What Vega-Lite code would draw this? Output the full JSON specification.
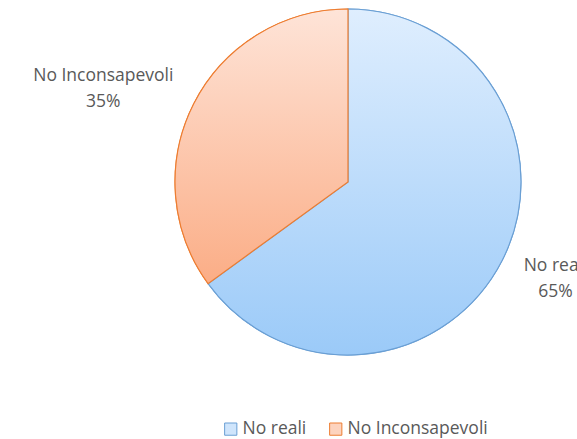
{
  "$schema": "https://vega.github.io/schema/vega-lite/v6.json",
  "width": 346,
  "height": 346,
  "autosize": {"type": "none"},
  "padding": {"left": 175, "top": 9, "right": 56, "bottom": 84},
  "background": "white",
  "config": {"view": {"stroke": null}, "font": "Open Sans"},
  "data": {
    "values": [
      {"category": "No reali", "value": 65},
      {"category": "No Inconsapevoli", "value": 35}
    ]
  },
  "transform": [
    {"calculate": "datum.category + '\\n' + datum.value + '%'", "as": "label"}
  ],
  "encoding": {
    "theta": {"field": "value", "type": "quantitative", "stack": true},
    "order": {"field": "value", "type": "quantitative", "sort": "descending"}
  },
  "layer": [
    {
      "mark": {"type": "arc", "strokeWidth": 1},
      "encoding": {
        "color": {
          "field": "category", "type": "nominal",
          "scale": {"domain": ["No reali", "No Inconsapevoli"], "range": ["#CFE5FC", "#FDD3BE"]},
          "legend": {
            "title": null, "orient": "none", "legendX": 47, "legendY": 411, "direction": "horizontal",
            "symbolType": "square", "symbolSize": 150,
            "symbolStrokeWidth": 1, "labelFont": "Open Sans", "labelFontSize": 17.5,
            "labelColor": "#595959", "labelOffset": 3, "columnPadding": 20, "padding": 0
          }
        },
        "stroke": {
          "field": "category", "type": "nominal",
          "scale": {"domain": ["No reali", "No Inconsapevoli"], "range": ["#6A9FD4", "#ED7D31"]},
          "legend": {
            "title": null, "orient": "none", "legendX": 47, "legendY": 411, "direction": "horizontal",
            "symbolType": "square", "symbolSize": 150,
            "symbolStrokeWidth": 1, "labelFont": "Open Sans", "labelFontSize": 17.5,
            "labelColor": "#595959", "labelOffset": 3, "columnPadding": 20, "padding": 0
          }
        }
      }
    },
    {
      "mark": {
        "type": "arc", "strokeWidth": 1.2, "stroke": "#6A9FD4",
        "fill": {"gradient": "linear", "x1": 0, "y1": 0, "x2": 0, "y2": 1,
          "stops": [{"offset": 0, "color": "#DFEEFE"}, {"offset": 1, "color": "#9BCAF8"}]}
      },
      "encoding": {
        "opacity": {"condition": {"test": "datum.category === 'No reali'", "value": 1}, "value": 0}
      }
    },
    {
      "mark": {
        "type": "arc", "strokeWidth": 1.2, "stroke": "#ED7D31",
        "fill": {"gradient": "linear", "x1": 0, "y1": 0, "x2": 0, "y2": 1,
          "stops": [{"offset": 0, "color": "#FEE4D8"}, {"offset": 1, "color": "#FBAD86"}]}
      },
      "encoding": {
        "opacity": {"condition": {"test": "datum.category === 'No Inconsapevoli'", "value": 1}, "value": 0}
      }
    },
    {
      "mark": {"type": "text", "radius": 224, "dx": 8, "dy": -18, "fontSize": 17.5, "lineHeight": 26, "lineBreak": "\n", "color": "#595959", "align": "center", "baseline": "middle"},
      "encoding": {
        "text": {"field": "label"},
        "opacity": {"condition": {"test": "datum.category === 'No reali'", "value": 1}, "value": 0}
      }
    },
    {
      "mark": {"type": "text", "radius": 260, "dx": -13, "dy": 12, "fontSize": 17.5, "lineHeight": 26, "lineBreak": "\n", "color": "#595959", "align": "center", "baseline": "middle"},
      "encoding": {
        "text": {"field": "label"},
        "opacity": {"condition": {"test": "datum.category === 'No Inconsapevoli'", "value": 1}, "value": 0}
      }
    }
  ]
}
